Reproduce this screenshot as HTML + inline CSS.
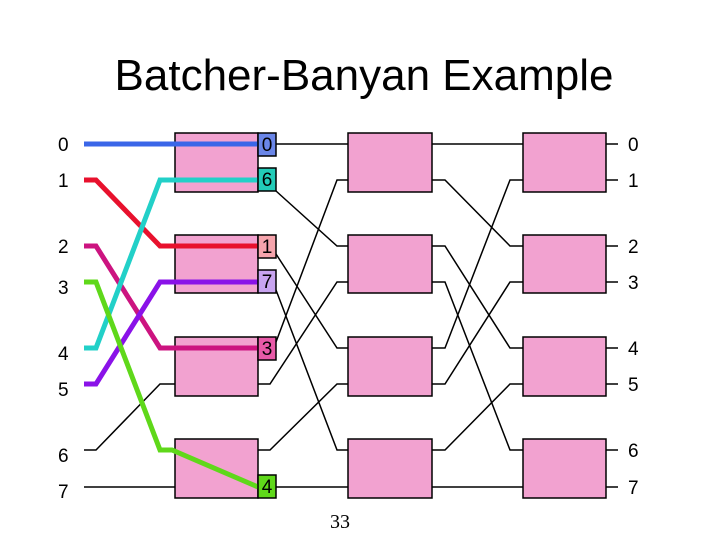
<!DOCTYPE html>
<html><head><meta charset="utf-8"><style>
html,body{margin:0;padding:0;background:#fff;}
</style></head><body>
<svg width="720" height="540" viewBox="0 0 720 540" xmlns="http://www.w3.org/2000/svg">
<rect width="720" height="540" fill="#fff"/>
<text x="364" y="90" font-family="Liberation Sans, sans-serif" font-size="44" text-anchor="middle">Batcher-Banyan Example</text>
<g font-family="Liberation Sans, sans-serif" font-size="19" fill="#000">
<text x="58" y="151">0</text><text x="58" y="187">1</text><text x="58" y="253">2</text><text x="58" y="294">3</text>
<text x="58" y="360">4</text><text x="58" y="396">5</text><text x="58" y="462">6</text><text x="58" y="498">7</text>
<text x="628" y="151">0</text><text x="628" y="187">1</text><text x="628" y="253">2</text><text x="628" y="289">3</text>
<text x="628" y="355">4</text><text x="628" y="391">5</text><text x="628" y="457">6</text><text x="628" y="494">7</text>
</g>
<g fill="none" stroke="#000" stroke-width="1.5">
<polyline points="84,450 96,450 160,384 175,384"/>
<polyline points="84,487 175,487"/>
<polyline points="276,144 348,144"/>
<polyline points="276,191 337,246 348,246"/>
<polyline points="276,254 337,348 348,348"/>
<polyline points="276,290 337,450 348,450"/>
<polyline points="276,342 337,180 348,180"/>
<polyline points="258,384 270,384 337,282 348,282"/>
<polyline points="258,450 270,450 337,384 348,384"/>
<polyline points="276,487 348,487"/>
<polyline points="432,144 523,144"/>
<polyline points="432,180 445,180 510,246 523,246"/>
<polyline points="432,246 445,246 510,348 523,348"/>
<polyline points="432,282 445,282 510,450 523,450"/>
<polyline points="432,348 445,348 510,180 523,180"/>
<polyline points="432,384 445,384 510,282 523,282"/>
<polyline points="432,450 445,450 510,384 523,384"/>
<polyline points="432,487 523,487"/>
<path d="M606 144H618M606 180H618M606 246H618M606 282H618M606 348H618M606 384H618M606 450H618M606 487H618"/>
</g>
<g fill="#f2a2d0" stroke="#000" stroke-width="1.5">
<rect x="175" y="133" width="83" height="59"/><rect x="175" y="235" width="83" height="58"/>
<rect x="175" y="337" width="83" height="59"/><rect x="175" y="439" width="83" height="59"/>
<rect x="348" y="133" width="84" height="59"/><rect x="348" y="235" width="84" height="58"/>
<rect x="348" y="337" width="84" height="59"/><rect x="348" y="439" width="84" height="59"/>
<rect x="523" y="133" width="83" height="59"/><rect x="523" y="235" width="83" height="58"/>
<rect x="523" y="337" width="83" height="59"/><rect x="523" y="439" width="83" height="59"/>
</g>
<g fill="none" stroke-width="5" stroke-linejoin="miter">
<polyline points="84,144 258,144" stroke="#3a66e8"/>
<polyline points="84,180 96,180 160,246 258,246" stroke="#e8112d"/>
<polyline points="84,246 96,246 160,348 258,348" stroke="#cc1480"/>
<polyline points="84,348 96,348 160,180 258,180" stroke="#22d0c8"/>
<polyline points="84,384 96,384 160,282 258,282" stroke="#8a12e8"/>
<polyline points="84,282 96,282 160,450 172,450 258,487" stroke="#5fd81a"/>
</g>
<g stroke="#000" stroke-width="1.5">
<rect x="258" y="133" width="18" height="23" fill="#6a86e8"/>
<rect x="258" y="168" width="18" height="23" fill="#22ccb8"/>
<rect x="258" y="235" width="18" height="23" fill="#f6a4ac"/>
<rect x="258" y="270" width="18" height="23" fill="#c8a4f0"/>
<rect x="258" y="337" width="18" height="23" fill="#e85aa8"/>
<rect x="258" y="475" width="18" height="23" fill="#5fd81a"/>
</g>
<g font-family="Liberation Sans, sans-serif" font-size="19" fill="#000" text-anchor="middle">
<text x="267" y="151">0</text><text x="267" y="186">6</text><text x="267" y="253">1</text>
<text x="267" y="288">7</text><text x="267" y="355">3</text><text x="267" y="493">4</text>
</g>
<text x="340" y="528" font-family="Liberation Serif, serif" font-size="20" text-anchor="middle">33</text>
</svg>
</body></html>
